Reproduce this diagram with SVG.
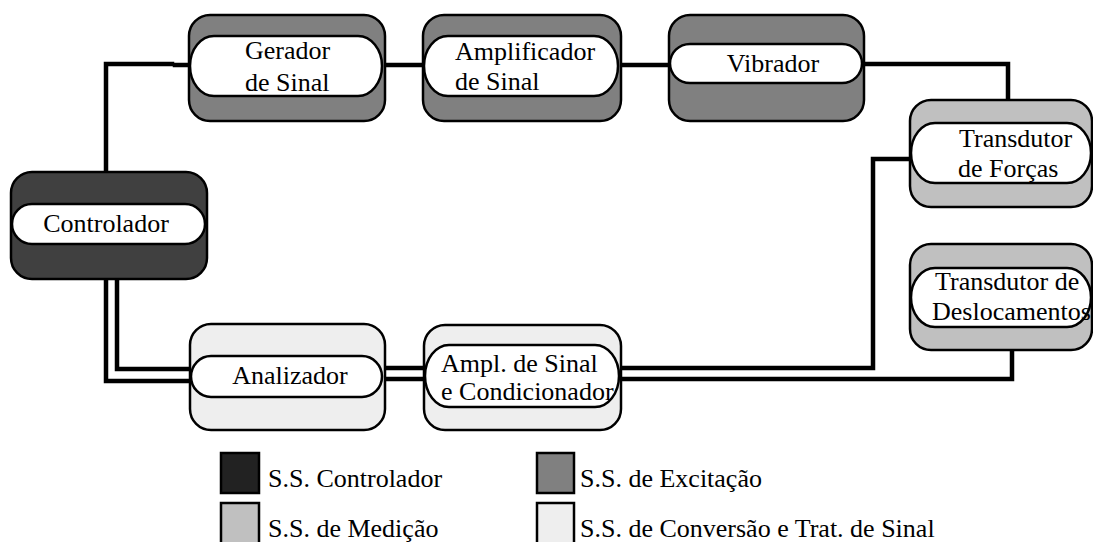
<svg xmlns="http://www.w3.org/2000/svg" width="1093" height="542" viewBox="0 0 1093 542" font-family="'Liberation Serif', 'DejaVu Serif', 'Times New Roman', serif">
<style>
.box{stroke:#000;stroke-width:2.5}
.pill{fill:#fff;stroke:#000;stroke-width:2.5}
.ctl{fill:#404040}
.exc{fill:#808080}
.med{fill:#c0c0c0}
.conv{fill:#eeeeee}
.ln{fill:none;stroke:#000;stroke-width:4.5;stroke-linejoin:miter;stroke-linecap:square}
.t{font-family:'Liberation Serif','DejaVu Serif',serif;font-size:26px;fill:#000}
.c{text-anchor:middle}
</style>
<rect width="1093" height="542" fill="#fff"/>
<g id="connectors">
  <polyline class="ln" points="106,172 106,64 172,64"/>
  <line class="ln" x1="175" y1="65" x2="189" y2="65" stroke-linecap="butt"/>
  <line class="ln" x1="385" y1="65" x2="423" y2="65"/>
  <line class="ln" x1="621" y1="65" x2="670" y2="65"/>
  <polyline class="ln" points="864,64 1008,64 1008,100"/>
  <polyline class="ln" points="912,159 873,159 873,368 621,368"/>
  <polyline class="ln" points="1012,350 1012,379 621,379"/>
  <line class="ln" x1="385" y1="368" x2="424" y2="368"/>
  <line class="ln" x1="385" y1="379" x2="424" y2="379"/>
  <polyline class="ln" points="117,279 117,369 190,369"/>
  <polyline class="ln" points="106,279 106,381 190,381"/>
</g>
<g id="controlador">
  <rect class="box ctl" x="11" y="172" width="196" height="107" rx="21"/>
  <rect class="pill" x="12" y="204" width="193" height="40" rx="20" ry="20"/>
  <text class="t c" x="106" y="232">Controlador</text>
</g>
<g id="gerador">
  <rect class="box exc" x="189" y="15" width="196" height="106" rx="21"/>
  <rect class="pill" x="190" y="36" width="192" height="60" rx="24" ry="30"/>
  <text class="t" x="245" y="59">Gerador</text>
  <text class="t" x="245" y="91">de Sinal</text>
</g>
<g id="amplificador">
  <rect class="box exc" x="423" y="15" width="198" height="106" rx="21"/>
  <rect class="pill" x="424" y="36" width="194" height="60" rx="24" ry="30"/>
  <text class="t" x="455" y="60">Amplificador</text>
  <text class="t" x="455" y="90">de Sinal</text>
</g>
<g id="vibrador">
  <rect class="box exc" x="669" y="15" width="195" height="106" rx="21"/>
  <rect class="pill" x="670" y="44" width="192" height="39" rx="20" ry="19.5"/>
  <text class="t c" x="773" y="72">Vibrador</text>
</g>
<g id="transdutor-forcas">
  <rect class="box med" x="910" y="100" width="182" height="107" rx="21"/>
  <rect class="pill" x="911" y="123" width="180" height="60" rx="24" ry="30"/>
  <text class="t" x="959" y="147">Transdutor</text>
  <text class="t" x="958" y="177">de Forças</text>
</g>
<g id="transdutor-deslocamentos">
  <rect class="box med" x="910" y="244" width="182" height="106" rx="21"/>
  <rect class="pill" x="911" y="268" width="180" height="59" rx="24" ry="29.5"/>
  <text class="t" x="935" y="290">Transdutor de</text>
  <text class="t" x="932" y="320">Deslocamentos</text>
</g>
<g id="analizador">
  <rect class="box conv" x="190" y="324" width="195" height="106" rx="21"/>
  <rect class="pill" x="191" y="356" width="191" height="41" rx="20" ry="20.5"/>
  <text class="t c" x="290" y="384">Analizador</text>
</g>
<g id="ampl-condicionador">
  <rect class="box conv" x="424" y="325" width="197" height="105" rx="21"/>
  <rect class="pill" x="425" y="345" width="194" height="62" rx="24" ry="31"/>
  <text class="t" x="441" y="372">Ampl. de Sinal</text>
  <text class="t" x="441" y="400">e Condicionador</text>
</g>
<g id="legend">
  <rect class="box" fill="#222" x="221" y="453" width="38" height="40"/>
  <text class="t" x="268" y="487">S.S. Controlador</text>
  <rect class="box exc" x="537" y="453" width="37" height="40"/>
  <text class="t" x="580" y="487">S.S. de Excitação</text>
  <rect class="box med" x="221" y="503" width="38" height="42"/>
  <text class="t" x="268" y="537">S.S. de Medição</text>
  <rect class="box conv" x="537" y="503" width="37" height="42"/>
  <text class="t" x="580" y="537">S.S. de Conversão e Trat. de Sinal</text>
</g>
</svg>
